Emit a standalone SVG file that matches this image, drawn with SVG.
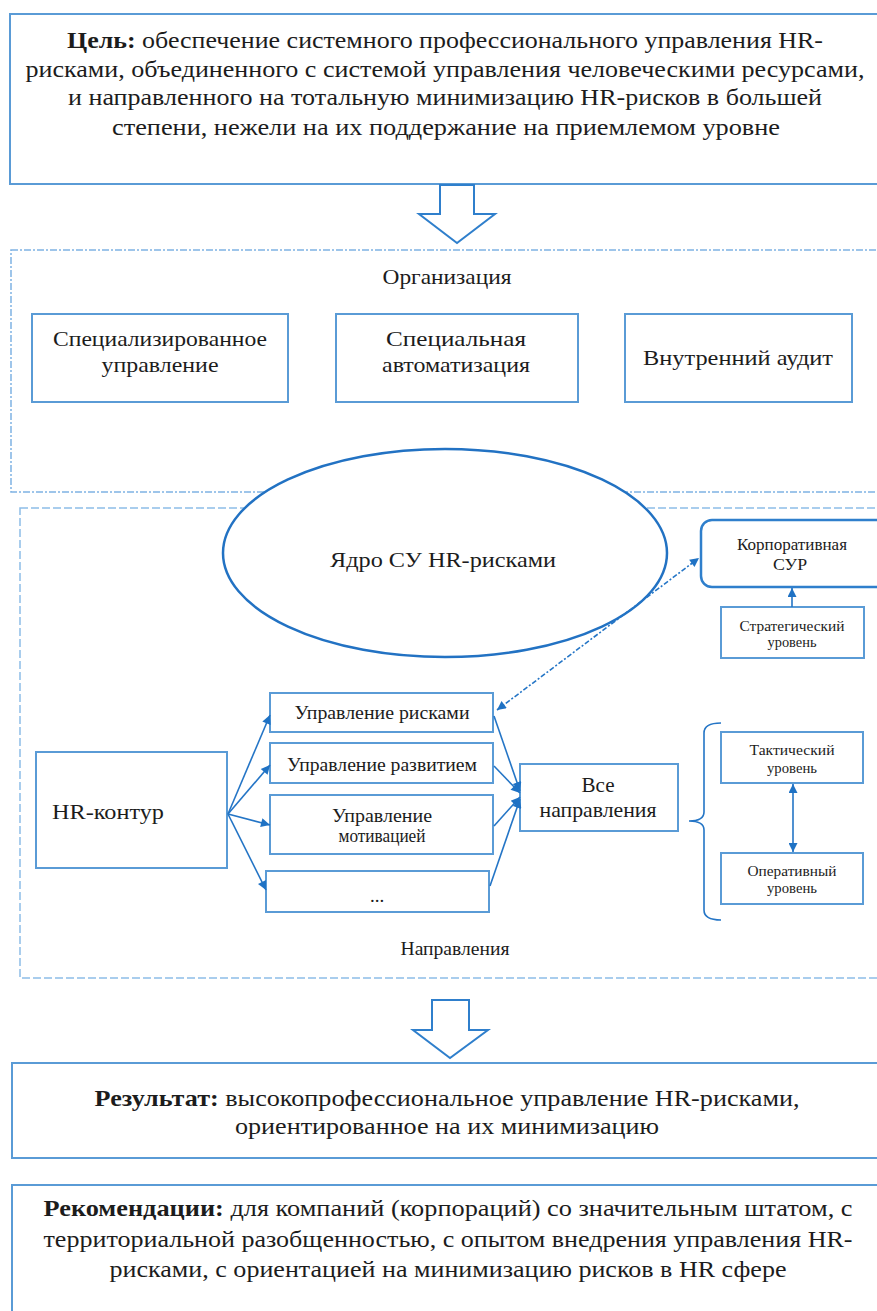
<svg xmlns="http://www.w3.org/2000/svg" width="877" height="1311" viewBox="0 0 877 1311">
<style>
  .box{fill:#fff;stroke:#5a9bd6;stroke-width:2}
  text{font-family:'Liberation Serif','DejaVu Serif','Times New Roman',serif}
  .t{fill:#1c1c1c;text-anchor:middle}
  .b{font-weight:bold}
  .conn{stroke:#2475c6;stroke-width:1.6;fill:none}
  .hollow{fill:#fff;stroke:#2f7fcc;stroke-width:2}
</style>
<defs>
  <marker id="ah" viewBox="0 0 10 10" refX="10" refY="5" markerWidth="11" markerHeight="9" markerUnits="userSpaceOnUse" orient="auto-start-reverse">
    <path d="M0,0 L10,5 L0,10 z" fill="#1f72c4"/>
  </marker>
</defs>
<rect width="877" height="1311" fill="#fff"/>

<g id="goal">
  <rect class="box" x="10" y="14" width="872" height="170"/>
  <text class="t" font-family="Liberation Serif, DejaVu Serif, serif" font-size="24" x="445" y="48" textLength="756" lengthAdjust="spacingAndGlyphs"><tspan class="b">Цель:</tspan> обеспечение системного профессионального управления HR-</text>
  <text class="t" font-family="Liberation Serif, DejaVu Serif, serif" font-size="24" x="445" y="77" textLength="839" lengthAdjust="spacingAndGlyphs">рисками, объединенного с системой управления человеческими ресурсами,</text>
  <text class="t" font-family="Liberation Serif, DejaVu Serif, serif" font-size="24" x="445" y="105" textLength="754" lengthAdjust="spacingAndGlyphs">и направленного на тотальную минимизацию HR-рисков в большей</text>
  <text class="t" font-family="Liberation Serif, DejaVu Serif, serif" font-size="24" x="446" y="135" textLength="668" lengthAdjust="spacingAndGlyphs">степени,  нежели на их поддержание на приемлемом уровне</text>
</g>

<g id="arrow1">
  <polygon class="hollow" points="440,185 474,185 474,214 495,214 457,243 419,214 440,214"/>
</g>

<g id="organization">
  <rect x="11" y="250" width="870" height="242" fill="none" stroke="#7fb2e3" stroke-width="1.5" stroke-dasharray="7 2 2 2"/>
  <text class="t" font-family="Liberation Serif, DejaVu Serif, serif" font-size="22" x="447" y="284" textLength="129" lengthAdjust="spacingAndGlyphs">Организация</text>
</g>
<g id="spec-mgmt">
  <rect class="box" x="32" y="314" width="256" height="88"/>
  <text class="t" font-family="Liberation Serif, DejaVu Serif, serif" font-size="22" x="160" y="346" textLength="214" lengthAdjust="spacingAndGlyphs">Специализированное</text>
  <text class="t" font-family="Liberation Serif, DejaVu Serif, serif" font-size="22" x="160" y="372" textLength="117" lengthAdjust="spacingAndGlyphs">управление</text>
</g>
<g id="spec-auto">
  <rect class="box" x="336" y="314" width="242" height="88"/>
  <text class="t" font-family="Liberation Serif, DejaVu Serif, serif" font-size="22" x="456" y="346" textLength="140" lengthAdjust="spacingAndGlyphs">Специальная</text>
  <text class="t" font-family="Liberation Serif, DejaVu Serif, serif" font-size="22" x="456" y="372" textLength="148" lengthAdjust="spacingAndGlyphs">автоматизация</text>
</g>
<g id="audit">
  <rect class="box" x="625" y="314" width="227" height="88"/>
  <text class="t" font-family="Liberation Serif, DejaVu Serif, serif" font-size="22" x="738" y="365" textLength="190" lengthAdjust="spacingAndGlyphs">Внутренний аудит</text>
</g>

<g id="directions-region">
  <rect x="20" y="508" width="870" height="470" fill="none" stroke="#8dbde8" stroke-width="1.5" stroke-dasharray="8 3"/>
  <text class="t" font-family="Liberation Serif, DejaVu Serif, serif" font-size="18" x="455" y="955" textLength="109" lengthAdjust="spacingAndGlyphs">Направления</text>
</g>

<g id="core">
  <ellipse cx="445" cy="553" rx="222" ry="104" fill="#fff" stroke="#2272c3" stroke-width="2.5"/>
  <text class="t" font-family="Liberation Serif, DejaVu Serif, serif" font-size="22" x="443" y="567" textLength="226" lengthAdjust="spacingAndGlyphs">Ядро СУ HR-рисками</text>
</g>

<g id="corp">
  <rect x="701" y="520" width="190" height="67" rx="11" fill="#fff" stroke="#2f7fcc" stroke-width="2.5"/>
  <text class="t" font-family="Liberation Serif, DejaVu Serif, serif" font-size="16" x="792" y="550" textLength="110" lengthAdjust="spacingAndGlyphs">Корпоративная</text>
  <text class="t" font-family="Liberation Serif, DejaVu Serif, serif" font-size="16" x="790" y="570" textLength="34" lengthAdjust="spacingAndGlyphs">СУР</text>
</g>
<g id="strategic">
  <rect class="box" x="721" y="607" width="143" height="51"/>
  <text class="t" font-family="Liberation Serif, DejaVu Serif, serif" font-size="15" x="792" y="631" textLength="105" lengthAdjust="spacingAndGlyphs">Стратегический</text>
  <text class="t" font-family="Liberation Serif, DejaVu Serif, serif" font-size="15" x="792" y="647" textLength="49" lengthAdjust="spacingAndGlyphs">уровень</text>
</g>

<g id="hr-contour">
  <rect class="box" x="36" y="752" width="191" height="116"/>
  <text class="t" font-family="Liberation Serif, DejaVu Serif, serif" font-size="22" x="108" y="819" textLength="112" lengthAdjust="spacingAndGlyphs">HR-контур</text>
</g>
<g id="risk-mgmt">
  <rect class="box" x="270" y="693" width="223" height="39"/>
  <text class="t" font-family="Liberation Serif, DejaVu Serif, serif" font-size="19" x="382" y="719" textLength="175" lengthAdjust="spacingAndGlyphs">Управление рисками</text>
</g>
<g id="dev-mgmt">
  <rect class="box" x="270" y="743" width="223" height="40"/>
  <text class="t" font-family="Liberation Serif, DejaVu Serif, serif" font-size="19" x="382" y="771" textLength="190" lengthAdjust="spacingAndGlyphs">Управление развитием</text>
</g>
<g id="motiv-mgmt">
  <rect class="box" x="270" y="795" width="223" height="59"/>
  <text class="t" font-family="Liberation Serif, DejaVu Serif, serif" font-size="19" x="382" y="822" textLength="100" lengthAdjust="spacingAndGlyphs">Управление</text>
  <text class="t" font-family="Liberation Serif, DejaVu Serif, serif" font-size="19" x="382" y="842" textLength="87" lengthAdjust="spacingAndGlyphs">мотивацией</text>
</g>
<g id="more">
  <rect class="box" x="266" y="871" width="223" height="41"/>
  <text class="t" font-family="Liberation Serif, DejaVu Serif, serif" font-size="19" x="377" y="902">...</text>
</g>
<g id="all-directions">
  <rect class="box" x="520" y="764" width="158" height="67"/>
  <text class="t" font-family="Liberation Serif, DejaVu Serif, serif" font-size="21" x="598" y="792" textLength="33" lengthAdjust="spacingAndGlyphs">Все</text>
  <text class="t" font-family="Liberation Serif, DejaVu Serif, serif" font-size="21" x="598" y="817" textLength="117" lengthAdjust="spacingAndGlyphs">направления</text>
</g>
<g id="tactical">
  <rect class="box" x="721" y="732" width="142" height="51"/>
  <text class="t" font-family="Liberation Serif, DejaVu Serif, serif" font-size="15" x="792" y="755" textLength="85" lengthAdjust="spacingAndGlyphs">Тактический</text>
  <text class="t" font-family="Liberation Serif, DejaVu Serif, serif" font-size="15" x="792" y="773" textLength="50" lengthAdjust="spacingAndGlyphs">уровень</text>
</g>
<g id="operational">
  <rect class="box" x="721" y="853" width="142" height="51"/>
  <text class="t" font-family="Liberation Serif, DejaVu Serif, serif" font-size="15" x="792" y="876" textLength="89" lengthAdjust="spacingAndGlyphs">Оперативный</text>
  <text class="t" font-family="Liberation Serif, DejaVu Serif, serif" font-size="15" x="792" y="893" textLength="50" lengthAdjust="spacingAndGlyphs">уровень</text>
</g>

<g id="connectors">
  <line class="conn" x1="497" y1="710" x2="699" y2="558" stroke="#5ea3e0" stroke-width="1.4" stroke-dasharray="5 2 2 2" marker-start="url(#ah)" marker-end="url(#ah)"/>
  <line class="conn" x1="792" y1="607" x2="792" y2="588" marker-end="url(#ah)"/>
  <line class="conn" x1="228" y1="814" x2="270" y2="715" marker-end="url(#ah)"/>
  <line class="conn" x1="228" y1="814" x2="270" y2="765" marker-end="url(#ah)"/>
  <line class="conn" x1="228" y1="814" x2="270" y2="825" marker-end="url(#ah)"/>
  <line class="conn" x1="228" y1="814" x2="266" y2="890" marker-end="url(#ah)"/>
  <line class="conn" x1="494" y1="716" x2="520" y2="791" marker-end="url(#ah)"/>
  <line class="conn" x1="494" y1="766" x2="520" y2="793" marker-end="url(#ah)"/>
  <line class="conn" x1="494" y1="826" x2="520" y2="797" marker-end="url(#ah)"/>
  <line class="conn" x1="490" y1="886" x2="520" y2="799" marker-end="url(#ah)"/>
  <line class="conn" x1="793" y1="784" x2="793" y2="852" marker-start="url(#ah)" marker-end="url(#ah)"/>
  <path class="conn" stroke="#5a9bd6" d="M721,723 Q704,723 704,733 L704,812 Q704,821 689,821 Q704,821 704,830 L704,910 Q704,920 721,920"/>
</g>

<g id="arrow2">
  <polygon class="hollow" points="432,1000 469,1000 469,1030 488,1030 450,1058 413,1030 432,1030"/>
</g>

<g id="result">
  <rect class="box" x="12" y="1063" width="872" height="95"/>
  <text class="t" font-family="Liberation Serif, DejaVu Serif, serif" font-size="24" x="447" y="1106" textLength="705" lengthAdjust="spacingAndGlyphs"><tspan class="b">Результат:</tspan> высокопрофессиональное управление HR-рисками,</text>
  <text class="t" font-family="Liberation Serif, DejaVu Serif, serif" font-size="24" x="447" y="1134" textLength="424" lengthAdjust="spacingAndGlyphs">ориентированное на их минимизацию</text>
</g>

<g id="recommendations">
  <rect class="box" x="12" y="1185" width="872" height="140"/>
  <text class="t" font-family="Liberation Serif, DejaVu Serif, serif" font-size="24" x="448" y="1216" textLength="809" lengthAdjust="spacingAndGlyphs"><tspan class="b">Рекомендации:</tspan> для компаний (корпораций) со значительным штатом, с</text>
  <text class="t" font-family="Liberation Serif, DejaVu Serif, serif" font-size="24" x="448" y="1247" textLength="809" lengthAdjust="spacingAndGlyphs">территориальной разобщенностью, с опытом внедрения управления HR-</text>
  <text class="t" font-family="Liberation Serif, DejaVu Serif, serif" font-size="24" x="448" y="1277" textLength="677" lengthAdjust="spacingAndGlyphs">рисками, с ориентацией на минимизацию рисков в HR сфере</text>
</g>
</svg>
